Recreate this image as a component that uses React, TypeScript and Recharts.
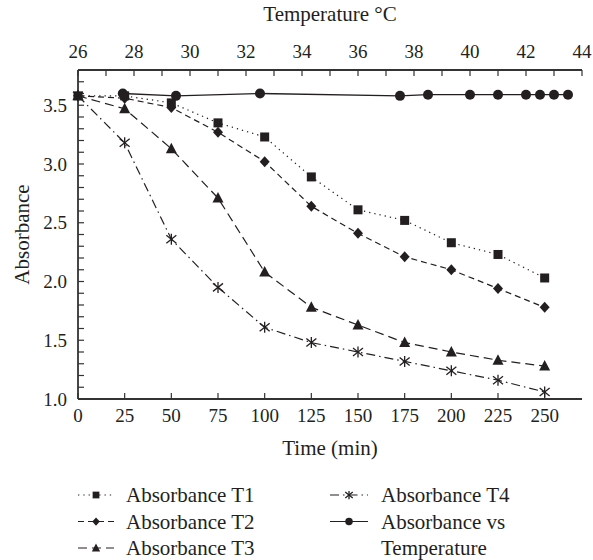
import { Legend, Line, LineChart, XAxis, YAxis } from "recharts";

// time axis (bottom), minutes
const TIME_MIN = [0, 25, 50, 75, 100, 125, 150, 175, 200, 225, 250];
const ABS_T1 = [3.58, 3.58, 3.52, 3.35, 3.23, 2.89, 2.61, 2.52, 2.33, 2.23, 2.03];
const ABS_T2 = [3.58, 3.56, 3.48, 3.27, 3.02, 2.64, 2.41, 2.21, 2.1, 1.94, 1.78];
const ABS_T3 = [3.58, 3.47, 3.13, 2.71, 2.08, 1.78, 1.63, 1.48, 1.4, 1.33, 1.28];
const ABS_T4 = [3.58, 3.18, 2.36, 1.95, 1.61, 1.48, 1.4, 1.32, 1.24, 1.16, 1.06];

// temperature axis (top), °C
const TEMP_C = [27.6, 29.5, 32.5, 37.5, 38.5, 40, 41, 42, 42.5, 43, 43.5];
const ABS_VS_TEMP = [3.6, 3.58, 3.6, 3.58, 3.59, 3.59, 3.59, 3.59, 3.59, 3.59, 3.59];

const TIME_TICKS = [0, 25, 50, 75, 100, 125, 150, 175, 200, 225, 250];
const TEMP_TICKS = [26, 27, 28, 29, 30, 31, 32, 33, 34, 35, 36, 37, 38, 39, 40, 41, 42, 43, 44];
const ABS_TICKS = [
  1.0, 1.1, 1.2, 1.3, 1.4, 1.5, 1.6, 1.7, 1.8, 1.9, 2.0, 2.1, 2.2, 2.3, 2.4,
  2.5, 2.6, 2.7, 2.8, 2.9, 3.0, 3.1, 3.2, 3.3, 3.4, 3.5, 3.6, 3.7,
];

const INK = "#231f20";
const FRAME = "#333333";
const FONT = "Liberation Serif, Tinos, Times New Roman, DejaVu Serif, serif";

type Kind = "square" | "diamond" | "triangle" | "star" | "circle";

const SERIES: { key: string; name: string; dash?: string; kind: Kind }[] = [
  { key: "t1", name: "Absorbance T1", dash: "1.3 4", kind: "square" },
  { key: "t2", name: "Absorbance T2", dash: "6 4", kind: "diamond" },
  { key: "t3", name: "Absorbance T3", dash: "9 5", kind: "triangle" },
  { key: "t4", name: "Absorbance T4", dash: "9 4 1.5 4", kind: "star" },
];
const TEMP_SERIES = { key: "abs", name: "Absorbance vs Temperature", kind: "circle" as Kind };

const rows = TIME_MIN.map((t, i) => ({
  time: t,
  t1: ABS_T1[i],
  t2: ABS_T2[i],
  t3: ABS_T3[i],
  t4: ABS_T4[i],
}));
const tempRows = TEMP_C.map((c, i) => ({ temp: c, abs: ABS_VS_TEMP[i] }));

function Marker({ kind, cx, cy, s = 1 }: { kind: Kind; cx: number; cy: number; s?: number }) {
  if (cx == null || cy == null) return null;
  switch (kind) {
    case "square":
      return <rect x={cx - 4.5 * s} y={cy - 4.5 * s} width={9 * s} height={9 * s} fill={INK} />;
    case "diamond":
      return (
        <polygon
          points={`${cx},${cy - 5.5 * s} ${cx + 5 * s},${cy} ${cx},${cy + 5.5 * s} ${cx - 5 * s},${cy}`}
          fill={INK}
        />
      );
    case "triangle":
      return (
        <polygon
          points={`${cx},${cy - 6 * s} ${cx + 5.5 * s},${cy + 4.5 * s} ${cx - 5.5 * s},${cy + 4.5 * s}`}
          fill={INK}
        />
      );
    case "star":
      return (
        <g stroke={INK} strokeWidth={1.3}>
          <line x1={cx} y1={cy - 5.5 * s} x2={cx} y2={cy + 5.5 * s} />
          <line x1={cx - 5 * s} y1={cy - 4 * s} x2={cx + 5 * s} y2={cy + 4 * s} />
          <line x1={cx - 5 * s} y1={cy + 4 * s} x2={cx + 5 * s} y2={cy - 4 * s} />
        </g>
      );
    default:
      return <circle cx={cx} cy={cy} r={5 * s} fill={INK} />;
  }
}

const dotFor = (kind: Kind, id: string) => (p: any) =>
  <Marker key={`${id}-${p.index}`} kind={kind} cx={p.cx} cy={p.cy} />;

function LegendBox(props: any) {
  const payload: any[] = props.payload ?? [];
  const all = [...SERIES, TEMP_SERIES];
  const rowY = [15, 41.5, 68];
  return (
    <svg width={593} height={80} style={{ display: "block" }}>
      {payload.map((entry, i) => {
        const cfg = all.find((s) => s.name === entry.value) ?? all[i];
        const col = i < 3 ? 0 : 1;
        const y = rowY[i % 3];
        const x0 = col === 0 ? 78 : 330;
        const x1 = col === 0 ? 114 : 368;
        const tx = col === 0 ? 126 : 381;
        const name: string = entry.value;
        const lines = name.includes(" vs ")
          ? [name.slice(0, name.indexOf(" vs ") + 3), name.slice(name.indexOf(" vs ") + 4)]
          : [name];
        return (
          <g key={name}>
            <line
              x1={x0}
              y1={y}
              x2={x1}
              y2={y}
              stroke={INK}
              strokeWidth={1.2}
              strokeDasharray={(cfg as any).dash}
            />
            <Marker kind={cfg.kind} cx={(x0 + x1) / 2} cy={y} s={0.75} />
            <text x={tx} y={y + 7} style={{ fontFamily: FONT }} fontSize={21} fill={INK}>
              {lines.map((l, k) => (
                <tspan key={k} x={tx} dy={k === 0 ? 0 : 26.5}>
                  {l}
                </tspan>
              ))}
            </text>
          </g>
        );
      })}
    </svg>
  );
}

const tickStyle = { fontSize: 19, fill: INK, style: { fontFamily: FONT } };
const labelStyle = { fontSize: 21, fill: INK, fontFamily: FONT };

export default function App() {
  return (
    <div
      style={{
        position: "fixed",
        left: 0,
        top: 0,
        width: 593,
        height: 560,
        background: "#fff",
        fontFamily: FONT,
      }}
    >
      <LineChart
        width={593}
        height={560}
        data={rows}
        margin={{ top: 0, right: 11, bottom: 99, left: 0 }}
        style={{ fontFamily: FONT }}
      >
        <XAxis
          xAxisId="time"
          dataKey="time"
          type="number"
          domain={[0, 270]}
          ticks={TIME_TICKS}
          interval={0}
          orientation="bottom"
          height={62}
          axisLine={{ stroke: FRAME, strokeWidth: 1.8 }}
          tickLine={{ stroke: FRAME, strokeWidth: 1.2 }}
          tickSize={-6}
          tickMargin={16}
          tick={tickStyle}
          label={{ value: "Time (min)", position: "insideBottom", offset: 6, style: labelStyle }}
        />
        <XAxis
          xAxisId="temp"
          dataKey="temp"
          type="number"
          domain={[26, 44]}
          ticks={TEMP_TICKS}
          interval={0}
          orientation="top"
          height={70}
          axisLine={{ stroke: FRAME, strokeWidth: 1.8 }}
          tickLine={{ stroke: FRAME, strokeWidth: 1.2 }}
          tickSize={-6}
          tickMargin={18}
          tick={tickStyle}
          tickFormatter={(v: number) => (v % 2 === 0 ? String(v) : "")}
          label={{ value: "Temperature °C", position: "insideTop", offset: 6, style: labelStyle }}
        />
        <YAxis
          yAxisId="abs"
          type="number"
          domain={[1, 3.8]}
          ticks={ABS_TICKS}
          interval={0}
          width={78}
          axisLine={{ stroke: FRAME, strokeWidth: 1.8 }}
          tickLine={{ stroke: FRAME, strokeWidth: 1.2 }}
          tickSize={-6}
          tickMargin={17}
          tick={tickStyle}
          tickFormatter={(v: number) => (Math.round(v * 10) % 5 === 0 ? v.toFixed(1) : "")}
          label={{
            value: "Absorbance",
            angle: -90,
            position: "insideLeft",
            offset: 22,
            style: { ...labelStyle, textAnchor: "middle" },
          }}
        />
        <YAxis
          yAxisId="frame"
          orientation="right"
          type="number"
          domain={[1, 3.8]}
          width={0}
          tick={false}
          tickLine={false}
          axisLine={{ stroke: FRAME, strokeWidth: 1.8 }}
        />
        {SERIES.map((s) => (
          <Line
            key={s.key}
            xAxisId="time"
            yAxisId="abs"
            dataKey={s.key}
            name={s.name}
            stroke={INK}
            strokeWidth={1.2}
            strokeDasharray={s.dash}
            dot={dotFor(s.kind, s.key)}
            activeDot={false}
            isAnimationActive={false}
          />
        ))}
        <Line
          xAxisId="temp"
          yAxisId="abs"
          data={tempRows}
          dataKey={TEMP_SERIES.key}
          name={TEMP_SERIES.name}
          stroke={INK}
          strokeWidth={1.3}
          dot={dotFor(TEMP_SERIES.kind, "temp")}
          activeDot={false}
          isAnimationActive={false}
        />
        <Legend
          layout="horizontal"
          verticalAlign="middle"
          align="center"
          wrapperStyle={{ top: 480, left: 0, width: 593, height: 80 }}
          content={LegendBox}
        />
      </LineChart>
    </div>
  );
}
